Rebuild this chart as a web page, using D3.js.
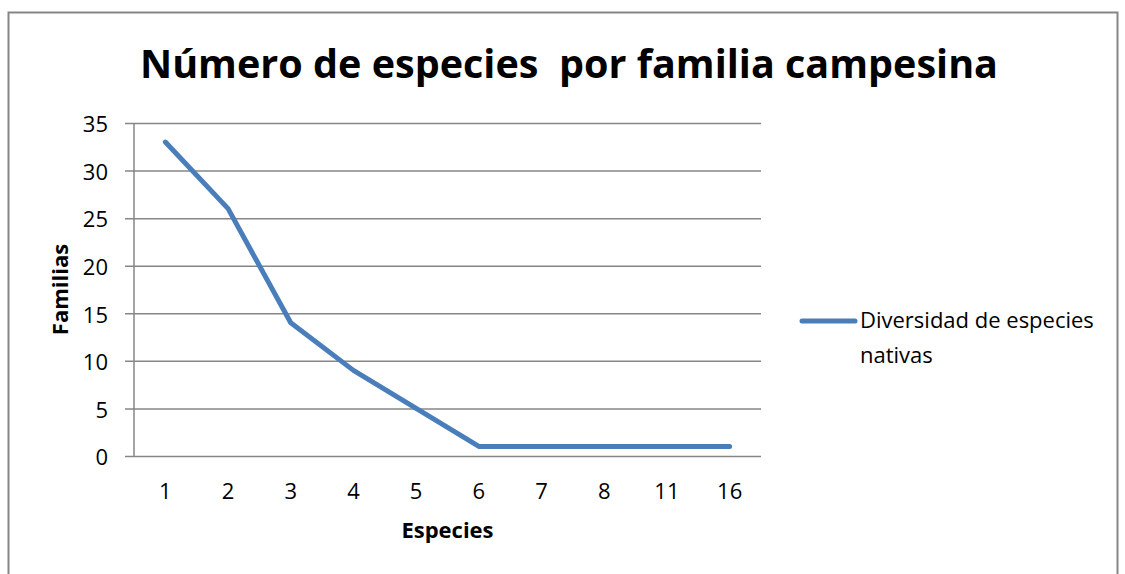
<!DOCTYPE html>
<html>
<head>
<meta charset="utf-8">
<script src="https://cdn.jsdelivr.net/npm/d3@7"></script>
<style>
  html, body { margin: 0; padding: 0; background: #fff; }
  svg { display: block; }
  text { font-family: "Open Sans", "Noto Sans", sans-serif; fill: #000; }
</style>
</head>
<body>
<svg id="chart" width="1125" height="574"></svg>
<script>
// Number of families (y) by number of species kept (x)
const categories = ["1", "2", "3", "4", "5", "6", "7", "8", "11", "16"];
const familias = [33, 26, 14, 9, 5, 1, 1, 1, 1, 1];
const yTicks = [0, 5, 10, 15, 20, 25, 30, 35];
const seriesName = ["Diversidad de especies", "nativas"];
const title = "Número de especies  por familia campesina";

const svg = d3.select("#chart");
const W = 1125, H = 574;
const plot = { left: 134, right: 761, top: 123, bottom: 456 };
const gridColor = "#868686";
const lineColor = "#4A7EBB";
const fontStack = "Open Sans, Noto Sans, sans-serif";

// outer chart frame (bottom edge runs off the page)
svg.append("path")
  .attr("d", `M8.5,${H + 2} V12.5 H1117.5 V${H + 2}`)
  .attr("fill", "none")
  .attr("stroke", gridColor)
  .attr("stroke-width", 2);

// title
svg.append("text")
  .attr("x", 569)
  .attr("y", 78)
  .attr("text-anchor", "middle")
  .attr("font-size", 39)
  .attr("font-weight", "bold")
  .attr("textLength", 858)
  .attr("lengthAdjust", "spacingAndGlyphs")
  .style("white-space", "pre")
  .text(title);

const x = d3.scaleBand()
  .domain(categories)
  .range([plot.left, plot.right]);

const y = d3.scaleLinear()
  .domain([0, 35])
  .range([plot.bottom, plot.top]);

// horizontal gridlines with short outer ticks
const yAxis = d3.axisLeft(y)
  .tickValues(yTicks)
  .tickSize(-(plot.right - plot.left))
  .tickSizeOuter(0)
  .tickPadding(0);

const gy = svg.append("g")
  .attr("transform", `translate(${plot.left},0)`)
  .call(yAxis);
gy.select(".domain").remove();
gy.selectAll(".tick line")
  .attr("x1", -9)
  .attr("stroke", gridColor)
  .attr("stroke-width", 1.5);
gy.selectAll(".tick text")
  .attr("x", -26)
  .attr("dy", "0.4em")
  .attr("font-size", 22)
  .attr("font-family", fontStack)
  .attr("fill", "#000");

// vertical axis line
svg.append("line")
  .attr("x1", plot.left).attr("x2", plot.left)
  .attr("y1", plot.top).attr("y2", plot.bottom)
  .attr("stroke", gridColor)
  .attr("stroke-width", 1.5);

// category labels
const xAxis = d3.axisBottom(x).tickSize(0).tickPadding(0);
const gx = svg.append("g")
  .attr("transform", `translate(0,${plot.bottom})`)
  .call(xAxis);
gx.select(".domain").remove();
gx.selectAll(".tick text")
  .attr("y", 43)
  .attr("dy", 0)
  .attr("font-size", 22)
  .attr("font-family", fontStack)
  .attr("fill", "#000");

// axis titles
svg.append("text")
  .attr("x", (plot.left + plot.right) / 2)
  .attr("y", 538)
  .attr("text-anchor", "middle")
  .attr("font-size", 22)
  .attr("font-weight", "bold")
  .text("Especies");

svg.append("text")
  .attr("transform", `translate(68,${(plot.top + plot.bottom) / 2}) rotate(-90)`)
  .attr("text-anchor", "middle")
  .attr("font-size", 22)
  .attr("font-weight", "bold")
  .text("Familias");

// data line
const line = d3.line()
  .x((d, i) => x(categories[i]) + x.bandwidth() / 2)
  .y(d => y(d));

svg.append("path")
  .datum(familias)
  .attr("d", line)
  .attr("fill", "none")
  .attr("stroke", lineColor)
  .attr("stroke-width", 5)
  .attr("stroke-linejoin", "round")
  .attr("stroke-linecap", "round");

// legend
const lg = svg.append("g").attr("transform", "translate(802,321)");
lg.append("line")
  .attr("x1", 0).attr("x2", 53)
  .attr("y1", 0).attr("y2", 0)
  .attr("stroke", lineColor)
  .attr("stroke-width", 5)
  .attr("stroke-linecap", "round");
lg.selectAll("text.leg")
  .data(seriesName)
  .join("text")
  .attr("class", "leg")
  .attr("x", 58)
  .attr("y", (d, i) => 7 + i * 35)
  .attr("font-size", 22)
  .text(d => d);
</script>
</body>
</html>
